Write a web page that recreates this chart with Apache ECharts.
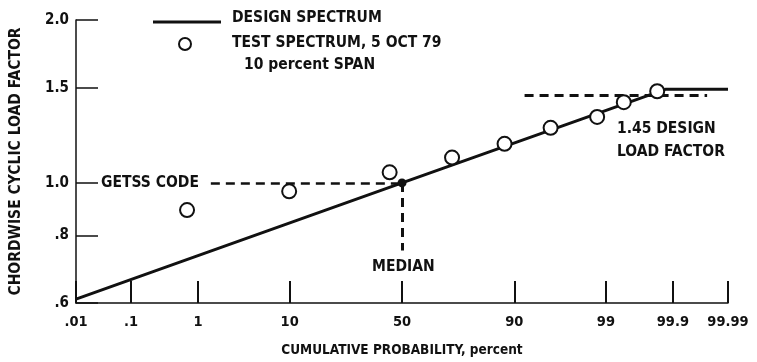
<!DOCTYPE html>
<html>
<head>
<meta charset="utf-8">
<script src="https://cdn.jsdelivr.net/npm/echarts@6/dist/echarts.min.js"></script>
<style>
  html, body { margin: 0; padding: 0; background: #fff; }
  #chart { width: 757px; height: 362px; }
</style>
</head>
<body>
<div id="chart"></div>
<script>
// Probability-paper tick positions (percent) and their printed labels
const tickProbs  = [0.01, 0.1, 1, 10, 50, 90, 99, 99.9, 99.99];
const tickLabels = ['.01', '.1', '1', '10', '50', '90', '99', '99.9', '99.99'];

// Load-factor ticks on the logarithmic axis
const loadTicks  = [0.6, 0.8, 1.0, 1.5, 2.0];
const loadLabels = ['.6', '.8', '1.0', '1.5', '2.0'];

// Design spectrum (cumulative probability %, load factor)
const designProb = [0.01, 50, 99.87, 99.99];
const designLoad = [0.61, 1.0, 1.49, 1.49];

// Test spectrum, 5 Oct 79, 10 percent span
const testProb = [0.71, 9.9, 44.4, 71.6, 87.9, 95.5, 98.7, 99.43, 99.82];
const testLoad = [0.891, 0.965, 1.046, 1.114, 1.181, 1.264, 1.324, 1.41, 1.477];

// Reference levels
const medianProb = 50, medianLoad = 1.0;
const getssStartProb = 1.46;
const medianDropLoad = 0.75;
const designLimit = 1.45;
const designLimitProb = [91.9, 99.975];

// Inverse of the standard normal CDF (Acklam's rational approximation)
function normInv(p) {
  const a = [-3.969683028665376e+01, 2.209460984245205e+02, -2.759285104469687e+02,
             1.383577518672690e+02, -3.066479806614716e+01, 2.506628277459239e+00];
  const b = [-5.447609879822406e+01, 1.615858368580409e+02, -1.556989798598866e+02,
             6.680131188771972e+01, -1.328068155288572e+01];
  const c = [-7.784894002430293e-03, -3.223964580411365e-01, -2.400758277161838e+00,
             -2.549671875906298e+00, 4.374664141464968e+00, 2.938163982698783e+00];
  const d = [7.784695709041462e-03, 3.224671290700398e-01, 2.445134137142996e+00,
             3.754408661907416e+00];
  const pl = 0.02425, ph = 1 - pl;
  let q, r;
  if (p < pl) {
    q = Math.sqrt(-2 * Math.log(p));
    return (((((c[0]*q+c[1])*q+c[2])*q+c[3])*q+c[4])*q+c[5]) /
           ((((d[0]*q+d[1])*q+d[2])*q+d[3])*q+1);
  }
  if (p <= ph) {
    q = p - 0.5; r = q * q;
    return (((((a[0]*r+a[1])*r+a[2])*r+a[3])*r+a[4])*r+a[5])*q /
           (((((b[0]*r+b[1])*r+b[2])*r+b[3])*r+b[4])*r+1);
  }
  q = Math.sqrt(-2 * Math.log(1 - p));
  return -(((((c[0]*q+c[1])*q+c[2])*q+c[3])*q+c[4])*q+c[5]) /
          ((((d[0]*q+d[1])*q+d[2])*q+d[3])*q+1);
}
const z = pct => normInv(pct / 100);

const tickZ = tickProbs.map(z);
const FONT = '"DejaVu Sans Condensed", "DejaVu Sans", sans-serif';
const INK = '#111';

function labelForZ(v) {
  let best = 0;
  tickZ.forEach((t, i) => { if (Math.abs(t - v) < Math.abs(tickZ[best] - v)) best = i; });
  return tickLabels[best];
}
function labelForLoad(v) {
  let best = 0;
  loadTicks.forEach((t, i) => { if (Math.abs(t - v) < Math.abs(loadTicks[best] - v)) best = i; });
  return loadLabels[best];
}

const chart = echarts.init(document.getElementById('chart'), null, { renderer: 'canvas' });

const textStyle = (size, weight) => ({ fontFamily: FONT, fontSize: size, fontWeight: weight || 'bold', fill: INK });

chart.setOption({
  animation: false,
  backgroundColor: '#fff',
  grid: { left: 73, right: 29, top: 20, bottom: 56 },
  xAxis: {
    type: 'value',
    min: z(tickProbs[0]),
    max: z(tickProbs[tickProbs.length - 1]),
    splitLine: { show: false },
    axisLine: { show: true, onZero: false, lineStyle: { color: INK, width: 1.5 } },
    axisTick: { show: true, inside: true, length: 22, customValues: tickZ, lineStyle: { color: INK, width: 2 } },
    axisLabel: {
      show: true, customValues: tickZ, formatter: labelForZ, margin: 12,
      color: INK, fontFamily: FONT, fontSize: 14.5, fontWeight: 'bold'
    },
    name: 'CUMULATIVE PROBABILITY, percent',
    nameLocation: 'middle', nameGap: 40,
    nameTextStyle: { color: INK, fontFamily: FONT, fontSize: 13.5, fontWeight: 'bold' }
  },
  yAxis: {
    type: 'log',
    min: loadTicks[0],
    max: loadTicks[loadTicks.length - 1],
    splitLine: { show: false },
    axisLine: { show: true, onZero: false, lineStyle: { color: INK, width: 1.5 } },
    axisTick: { show: true, inside: true, length: 22, customValues: loadTicks, lineStyle: { color: INK, width: 1.5 } },
    axisLabel: {
      show: true, customValues: loadTicks, formatter: labelForLoad, margin: 7,
      color: INK, fontFamily: FONT, fontSize: 15, fontWeight: 'bold'
    },
    name: 'CHORDWISE CYCLIC LOAD FACTOR',
    nameLocation: 'middle', nameGap: 52, nameRotate: 90,
    nameTextStyle: { color: INK, fontFamily: FONT, fontSize: 15.5, fontWeight: 'bold' }
  },
  series: [
    {
      name: 'DESIGN SPECTRUM',
      type: 'line',
      data: designProb.map((p, i) => [z(p), designLoad[i]]),
      showSymbol: false,
      lineStyle: { color: INK, width: 3 },
      z: 3
    },
    {
      name: 'GETSS CODE',
      type: 'line',
      data: [],
      markLine: {
        silent: true,
        symbol: ['none', 'arrow'],
        symbolSize: [0, 10],
        label: { show: false },
        lineStyle: { color: INK, width: 2.5, type: [9, 6] },
        data: [
          [{ coord: [z(getssStartProb), medianLoad] }, { coord: [z(medianProb), medianLoad] }]
        ]
      }
    },
    {
      name: 'MEDIAN',
      type: 'line',
      data: [],
      markLine: {
        silent: true,
        symbol: ['none', 'none'],
        label: { show: false },
        lineStyle: { color: INK, width: 3, type: [9, 6] },
        data: [
          [{ coord: [z(medianProb), medianLoad] }, { coord: [z(medianProb), medianDropLoad] }],
          [{ coord: [z(designLimitProb[0]), designLimit] }, { coord: [z(designLimitProb[1]), designLimit] }]
        ]
      }
    },
    {
      name: 'MEDIAN POINT',
      type: 'scatter',
      data: [[z(medianProb), medianLoad]],
      symbol: 'circle',
      symbolSize: 9,
      itemStyle: { color: INK, opacity: 1 },
      z: 5
    },
    {
      name: 'TEST SPECTRUM, 5 OCT 79',
      type: 'scatter',
      data: testProb.map((p, i) => [z(p), testLoad[i]]),
      symbol: 'circle',
      symbolSize: 14,
      itemStyle: { color: '#fff', borderColor: INK, borderWidth: 2, opacity: 1 },
      z: 6
    }
  ],
  graphic: [
    // Key
    { type: 'line', shape: { x1: 153, y1: 22, x2: 221, y2: 22 }, style: { stroke: INK, lineWidth: 3 } },
    { type: 'circle', shape: { cx: 185, cy: 44, r: 6 }, style: { fill: '#fff', stroke: INK, lineWidth: 2 } },
    { type: 'text', left: 232, top: 10, style: Object.assign({ text: 'DESIGN SPECTRUM' }, textStyle(15.5)) },
    { type: 'text', left: 232, top: 35, style: Object.assign({ text: 'TEST SPECTRUM, 5 OCT 79' }, textStyle(15.5)) },
    { type: 'text', left: 244, top: 57, style: Object.assign({ text: '10 percent SPAN' }, textStyle(15.5)) },
    // Annotations
    { type: 'text', left: 101, top: 175, style: Object.assign({ text: 'GETSS CODE' }, textStyle(15.5)) },
    { type: 'text', left: 372, top: 259, style: Object.assign({ text: 'MEDIAN' }, textStyle(15.5)) },
    { type: 'text', left: 617, top: 121, style: Object.assign({ text: '1.45 DESIGN' }, textStyle(15.5)) },
    { type: 'text', left: 617, top: 144, style: Object.assign({ text: 'LOAD FACTOR' }, textStyle(15.5)) }
  ]
});
</script>
</body>
</html>
